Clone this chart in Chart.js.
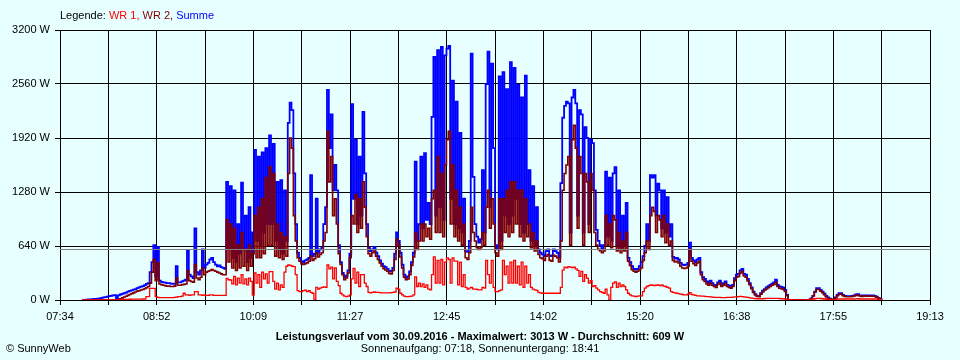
<!DOCTYPE html>
<html lang="de">
<head>
<meta charset="utf-8">
<title>Leistungsverlauf 30.09.2016</title>
<script src="https://cdn.jsdelivr.net/npm/chart.js@4.4.1/dist/chart.umd.min.js"></script>
<style>
    html, body { margin: 0; padding: 0; background: #e8ffff; }
    #wrap { position: relative; width: 960px; height: 360px; }
</style>
</head>
<body>
<div id="wrap"><canvas id="powerChart" width="960" height="360"></canvas></div>
<script>
// Daily power curve (SunnyWeb style) drawn with Chart.js.

// Logger samples: first sample time and interval in minutes
const firstSample = '07:52';
const sampleMinutes = 1.5;

// WR 1 (W)
const wr1 = [
    0, 0, 0, 0, 0, 0, 0, 0, 0, 0,
    0, 0, 0, 0, 0, 0, 0, 0, 0, 3,
    5, 6, 8, 8, 8, 9, 10, 10, 10, 10,
    10, 11, 12, 12, 40, 40, 138, 138, 138, 40,
    30, 28, 28, 28, 28, 28, 28, 28, 28, 30,
    35, 40, 40, 45, 80, 60, 60, 55, 60, 60,
    99, 99, 60, 60, 55, 60, 55, 55, 60, 60,
    55, 55, 55, 55, 55, 55, 55, 257, 240, 237,
    190, 280, 180, 260, 200, 300, 190, 250, 180, 260,
    220, 59, 320, 200, 300, 150, 330, 250, 310, 200,
    336, 336, 220, 130, 200, 120, 180, 150, 330, 400,
    415, 410, 400, 395, 300, 110, 99, 100, 110, 118,
    100, 110, 90, 80, 0, 150, 130, 140, 150, 155,
    150, 415, 370, 390, 250, 380, 220, 170, 80, 60,
    45, 40, 45, 60, 250, 375, 200, 330, 160, 300,
    300, 200, 160, 90, 85, 90, 95, 90, 90, 88,
    85, 85, 85, 85, 85, 88, 90, 95, 140, 130,
    80, 60, 45, 40, 40, 42, 45, 60, 275, 160,
    200, 160, 190, 150, 180, 130, 120, 300, 510, 200,
    470, 200, 480, 180, 450, 500, 480, 200, 500, 460,
    460, 180, 450, 160, 300, 150, 130, 140, 150, 130,
    130, 125, 120, 120, 150, 140, 470, 300, 200, 470,
    150, 100, 100, 110, 120, 470, 300, 400, 200, 450,
    200, 470, 200, 400, 180, 450, 150, 400, 200, 300,
    150, 130, 120, 115, 90, 85, 80, 80, 80, 80,
    80, 80, 80, 80, 80, 80, 150, 355, 390, 380,
    395, 390, 385, 390, 370, 350, 280, 340, 220, 300,
    260, 200, 230, 160, 170, 140, 120, 100, 90, 80,
    130, 60, 0, 150, 200, 215, 150, 200, 160, 180,
    160, 120, 80, 60, 50, 45, 40, 45, 50, 50,
    100, 140, 160, 170, 180, 175, 170, 175, 180, 170,
    180, 165, 160, 150, 140, 100, 90, 85, 80, 75,
    70, 65, 60, 60, 70, 87, 65, 60, 55, 50,
    50, 45, 45, 42, 40, 40, 38, 35, 32, 30,
    30, 30, 28, 28, 28, 30, 30, 32, 35, 38,
    38, 40, 42, 40, 38, 35, 30, 25, 22, 20,
    18, 15, 15, 15, 15, 18, 20, 20, 20, 20,
    20, 20, 20, 18, 15, 15, 12, 8, 0, 0,
    0, 0, 0, 0, 0, 0, 0, 0, 0, 0,
    5, 10, 15, 20, 20, 18, 15, 12, 8, 5,
    3, 0, 0, 5, 10, 12, 12, 12, 12, 12,
    12, 12, 12, 12, 14, 15, 12, 12, 12, 12,
    12, 12, 12, 12, 12, 10, 6, 3, 0
];

// WR 2 (W)
const wr2 = [
    0, 0, 0, 0, 0, 0, 0, 0, 0, 0,
    0, 0, 0, 0, 0, 0, 0, 0, 0, 5,
    15, 25, 35, 45, 55, 65, 75, 85, 95, 105,
    110, 118, 125, 135, 145, 160, 200, 330, 480, 230,
    440, 190, 180, 175, 170, 165, 165, 160, 160, 165,
    260, 175, 175, 180, 185, 190, 350, 230, 220, 210,
    420, 260, 240, 270, 380, 300, 330, 340, 350, 360,
    350, 340, 330, 320, 310, 300, 300, 950, 450, 900,
    380, 850, 350, 650, 380, 800, 400, 600, 350, 650,
    400, 550, 1000, 500, 1100, 500, 1200, 550, 1450, 650,
    1580, 650, 1500, 520, 900, 500, 800, 480, 750, 520,
    1500, 1920, 1800, 1000, 700, 500, 460, 430, 420, 430,
    440, 460, 520, 470, 490, 560, 510, 540, 560, 700,
    800, 2000, 1400, 1700, 1000, 1200, 900, 550, 420, 300,
    240, 260, 320, 500, 1000, 900, 1250, 800, 1200, 850,
    1400, 1100, 750, 550, 520, 560, 580, 520, 480, 440,
    400, 370, 355, 340, 315, 310, 350, 480, 720, 650,
    510, 380, 270, 240, 250, 300, 410, 510, 800, 600,
    700, 900, 700, 900, 750, 850, 720, 1200, 1300, 800,
    1700, 800, 1500, 750, 1600, 1900, 2000, 900, 1600, 750,
    1300, 700, 1100, 650, 900, 500, 480, 560, 1100, 800,
    700, 620, 600, 620, 800, 650, 1100, 1300, 850, 1200,
    900, 560, 520, 1200, 600, 1200, 800, 1300, 750, 1400,
    800, 1400, 900, 1300, 750, 1300, 700, 1200, 750, 900,
    620, 800, 580, 700, 540, 500, 490, 470, 520, 540,
    470, 460, 530, 520, 500, 450, 700, 1300, 1500, 1600,
    1700, 650, 1900, 2070, 1800, 850, 1700, 1500, 650, 1500,
    1400, 800, 1500, 1300, 800, 650, 600, 580, 560, 580,
    1000, 650, 900, 620, 1000, 950, 580, 800, 560, 700,
    580, 800, 460, 410, 360, 340, 330, 340, 360, 380,
    470, 560, 700, 600, 1000, 1100, 1050, 800, 1000, 950,
    750, 1000, 680, 900, 650, 700, 470, 450, 460, 440,
    400, 380, 375, 380, 400, 600, 460, 430, 410, 440,
    460, 300, 240, 220, 190, 175, 200, 175, 160, 150,
    185, 200, 160, 175, 195, 160, 150, 140, 160, 230,
    270, 280, 320, 340, 285, 270, 225, 180, 135, 90,
    60, 45, 40, 70, 95, 115, 130, 145, 160, 175,
    185, 210, 160, 140, 135, 125, 100, 50, 0, 0,
    0, 0, 0, 0, 0, 0, 0, 0, 0, 3,
    15, 50, 95, 125, 125, 105, 88, 62, 35, 18,
    10, 5, 3, 25, 50, 70, 70, 50, 42, 38,
    38, 38, 42, 48, 55, 60, 48, 42, 46, 46,
    46, 46, 46, 46, 42, 34, 20, 8, 0
];

// Summe (W)
const summe = [
    0, 2, 5, 7, 8, 10, 12, 13, 15, 18,
    25, 30, 35, 40, 47, 50, 55, 58, 20, 55,
    65, 72, 80, 88, 100, 108, 115, 122, 130, 140,
    150, 158, 165, 175, 190, 200, 330, 450, 650, 280,
    630, 230, 215, 210, 205, 200, 200, 195, 190, 195,
    400, 210, 210, 220, 230, 240, 590, 300, 280, 260,
    850, 330, 300, 350, 600, 380, 420, 440, 480, 500,
    450, 420, 400, 410, 390, 380, 370, 1400, 600, 1350,
    500, 1300, 450, 900, 550, 1390, 600, 1000, 450, 1100,
    500, 800, 1780, 700, 1700, 650, 1750, 800, 1800, 900,
    1950, 900, 1850, 700, 1400, 600, 1420, 550, 1300, 700,
    2100, 2340, 2250, 1500, 900, 560, 500, 460, 450, 470,
    480, 500, 1480, 520, 550, 1200, 560, 600, 620, 900,
    1100, 2490, 1800, 2200, 1300, 1600, 1300, 650, 450, 320,
    270, 290, 350, 550, 2320, 1200, 1900, 900, 1700, 1000,
    2230, 1500, 900, 620, 580, 600, 630, 560, 520, 470,
    430, 400, 390, 370, 345, 340, 380, 550, 800, 700,
    560, 420, 300, 265, 280, 340, 450, 560, 1640, 700,
    900, 1700, 850, 1740, 950, 1150, 900, 2170, 2880, 1000,
    2960, 1100, 3000, 950, 2900, 2980, 3013, 1200, 2600, 900,
    2350, 850, 1980, 800, 1200, 580, 570, 700, 2920, 1460,
    900, 750, 680, 720, 1540, 800, 2560, 2943, 1100, 2800,
    1800, 650, 600, 2650, 700, 2700, 1000, 2500, 900, 2820,
    1000, 2750, 1200, 2550, 900, 2400, 800, 2660, 900, 1540,
    700, 1350, 650, 1100, 600, 560, 540, 520, 580, 600,
    530, 520, 600, 580, 560, 500, 1385, 2160, 2300, 2350,
    2330, 800, 2400, 2490, 2330, 1000, 2250, 2200, 800, 2050,
    1920, 900, 1900, 1860, 1300, 830, 700, 650, 600, 650,
    1520, 750, 1450, 700, 1500, 1575, 650, 1300, 620, 1000,
    650, 1150, 500, 450, 400, 370, 360, 370, 400, 450,
    520, 640, 900, 700, 1480, 1450, 1480, 1000, 1380, 1300,
    850, 1300, 800, 1220, 750, 900, 510, 490, 500, 480,
    440, 420, 415, 420, 440, 680, 500, 470, 450, 480,
    500, 330, 270, 250, 220, 200, 230, 200, 180, 170,
    210, 230, 180, 200, 220, 180, 170, 160, 180, 260,
    300, 310, 350, 370, 310, 300, 250, 200, 150, 100,
    70, 50, 47, 80, 110, 130, 150, 165, 180, 195,
    210, 240, 180, 160, 155, 145, 120, 60, 0, 0,
    0, 0, 0, 0, 0, 0, 0, 0, 0, 5,
    20, 50, 100, 140, 140, 120, 100, 75, 50, 30,
    15, 8, 5, 30, 60, 80, 80, 60, 50, 45,
    45, 45, 48, 55, 65, 70, 55, 50, 55, 55,
    55, 55, 55, 55, 50, 40, 25, 10, 0
];

const seriesNames = ['WR 1', 'WR 2', 'Summe'];
const seriesColors = ['#ff0000', '#800000', '#0000ff'];
const seriesWidths = [1.3, 1.6, 1.8];

// Axes
const timeLabels = ['07:34', '08:52', '10:09', '11:27', '12:45', '14:02', '15:20', '16:38', '17:55', '19:13'];
const yTickValues = [0, 640, 1280, 1920, 2560, 3200];

// Summary
const dayText = '30.09.2016';
const maxWatt = 3013;
const averageWatt = 609;
const sunrise = '07:18';
const sunset = '18:41';

const FONT = '"Liberation Sans", Arial, sans-serif';


function toMinutes(hhmm) {
    const [h, m] = hhmm.split(':').map(Number);
    return h * 60 + m;
}

const xMin = toMinutes(timeLabels[0]);
const xMax = toMinutes(timeLabels[timeLabels.length - 1]);
const startMinute = toMinutes(firstSample);

function toPoints(values) {
    return values.map((v, i) => ({ x: startMinute + i * sampleMinutes, y: v }));
}

// Background, average line and the texts around the plot
const sunnyPlugin = {
    id: 'sunnyTexts',
    beforeDraw(chart) {
        const { ctx, width, height } = chart;
        ctx.save();
        ctx.fillStyle = '#e8ffff';
        ctx.fillRect(0, 0, width, height);
        ctx.restore();
    },
    afterDatasetsDraw(chart) {
        const { ctx, chartArea, scales } = chart;
        const y = Math.round(scales.y.getPixelForValue(averageWatt)) + 0.5;
        ctx.save();
        ctx.strokeStyle = '#808080';
        ctx.lineWidth = 1;
        ctx.beginPath();
        ctx.moveTo(chartArea.left, y);
        ctx.lineTo(chartArea.right, y);
        ctx.stroke();
        ctx.restore();
    },
    afterDraw(chart) {
        const { ctx } = chart;
        ctx.save();
        ctx.font = '11px ' + FONT;
        ctx.textBaseline = 'middle';
        ctx.textAlign = 'left';

        // Legend line
        let x = 60;
        ctx.fillStyle = '#000';
        ctx.fillText('Legende: ', x, 16);
        x += ctx.measureText('Legende: ').width;
        seriesNames.forEach((name, i) => {
            const part = name + (i < seriesNames.length - 1 ? ', ' : '');
            ctx.fillStyle = seriesColors[i];
            ctx.fillText(part, x, 16);
            x += ctx.measureText(part).width;
        });

        // Title lines
        ctx.textAlign = 'center';
        ctx.fillStyle = '#000';
        ctx.font = 'bold 11px ' + FONT;
        ctx.fillText('Leistungsverlauf vom ' + dayText + ' - Maximalwert: ' + maxWatt +
            ' W - Durchschnitt: ' + averageWatt + ' W', 480, 337);
        ctx.font = '11px ' + FONT;
        ctx.fillText('Sonnenaufgang: ' + sunrise + ', Sonnenuntergang: ' + sunset, 480, 349);

        ctx.textAlign = 'left';
        ctx.fillText('\u00a9 SunnyWeb', 6, 349);
        ctx.restore();
    }
};

const ctx = document.getElementById('powerChart').getContext('2d');
Chart.defaults.font.family = FONT;
Chart.defaults.font.size = 11;
Chart.defaults.color = '#000';

const seriesData = [wr1, wr2, summe];

new Chart(ctx, {
    type: 'line',
    data: {
        datasets: seriesData.map((values, i) => ({
            label: seriesNames[i],
            data: toPoints(values),
            borderColor: seriesColors[i],
            backgroundColor: seriesColors[i],
            borderWidth: seriesWidths[i],
            pointRadius: 0,
            stepped: true,
            fill: false
        }))
    },
    options: {
        responsive: false,
        animation: false,
        layout: { padding: { left: 0, right: 30, top: 30, bottom: 0 } },
        plugins: {
            legend: { display: false },
            tooltip: { enabled: false }
        },
        scales: {
            x: {
                type: 'linear',
                min: xMin,
                max: xMax,
                afterBuildTicks(scale) {
                    // 18 grid divisions, every second one labelled
                    const ticks = [];
                    for (let k = 0; k <= 18; k++) {
                        ticks.push({ value: xMin + k * (xMax - xMin) / 18 });
                    }
                    scale.ticks = ticks;
                },
                afterFit(scale) { scale.height = 60; },
                ticks: {
                    autoSkip: false,
                    maxRotation: 0,
                    padding: 5,
                    callback: (value, index) => index % 2 === 0 ? timeLabels[index / 2] : ''
                },
                grid: { color: '#000', lineWidth: 1, tickLength: 5 },
                border: { color: '#000' }
            },
            y: {
                min: yTickValues[0],
                max: yTickValues[yTickValues.length - 1],
                afterBuildTicks(scale) {
                    scale.ticks = yTickValues.map(v => ({ value: v }));
                },
                afterFit(scale) { scale.width = 60; },
                ticks: {
                    padding: 5,
                    callback: value => value + ' W'
                },
                grid: { color: '#000', lineWidth: 1, tickLength: 5 },
                border: { color: '#000' }
            }
        }
    },
    plugins: [sunnyPlugin]
});
</script>
</body>
</html>
